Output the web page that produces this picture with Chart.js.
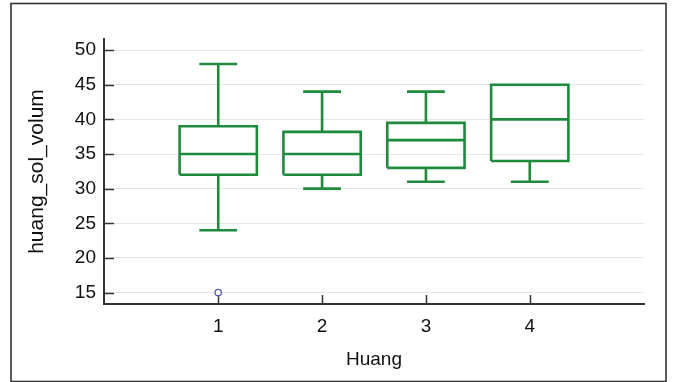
<!DOCTYPE html>
<html>
<head>
<meta charset="utf-8">
<script src="https://cdn.jsdelivr.net/npm/chart.js@4"></script>
<style>
  html, body { margin: 0; padding: 0; background: #ffffff; }
  #wrap { width: 674px; height: 382px; }
</style>
</head>
<body>
<div id="wrap"><canvas id="c" width="674" height="382"></canvas></div>
<script>
// ---- data ----
const categories   = [1, 2, 3, 4];
const whiskerLow   = [24, 30, 31, 31];
const q1           = [32, 32, 33, 34];
const median       = [35, 35, 37, 40];
const q3           = [39, 38.2, 39.5, 45];
const whiskerHigh  = [48, 44, 44, 45];
const outlierX     = [1];
const outlierY     = [15];
const yTicks       = [15, 20, 25, 30, 35, 40, 45, 50];
const xTicks       = [1, 2, 3, 4];
const xTitle = 'Huang';
const yTitle = 'huang_sol_volum';

// ---- style ----
const GREEN = '#1f8a3c';
const BOX_HALF = 0.372;
const CAP_HALF = 0.182;
const GAP = { x: NaN, y: null };

// build box outlines from the data arrays
const boxPts = [];
const medPts = [];
const whiskerPts = [];
categories.forEach((c, i) => {
  boxPts.push({x: c - BOX_HALF, y: q1[i]}, {x: c + BOX_HALF, y: q1[i]},
              {x: c + BOX_HALF, y: q3[i]}, {x: c - BOX_HALF, y: q3[i]},
              {x: c - BOX_HALF, y: q1[i]}, GAP);
  medPts.push({x: c - BOX_HALF, y: median[i]}, {x: c + BOX_HALF, y: median[i]}, GAP);
  if (whiskerHigh[i] > q3[i]) {
    whiskerPts.push({x: c, y: q3[i]}, {x: c, y: whiskerHigh[i]}, GAP,
                    {x: c - CAP_HALF, y: whiskerHigh[i]}, {x: c + CAP_HALF, y: whiskerHigh[i]}, GAP);
  }
  if (whiskerLow[i] < q1[i]) {
    whiskerPts.push({x: c, y: q1[i]}, {x: c, y: whiskerLow[i]}, GAP,
                    {x: c - CAP_HALF, y: whiskerLow[i]}, {x: c + CAP_HALF, y: whiskerLow[i]}, GAP);
  }
});
const outlierPts = outlierX.map((x, i) => ({x: x, y: outlierY[i]}));

const lineDs = (data) => ({
  data: data, showLine: true, spanGaps: false,
  borderColor: GREEN, borderWidth: 2.6, pointRadius: 0,
  borderJoinStyle: 'miter', borderCapStyle: 'butt', fill: false
});

// frame + inward tick marks
const framePlugin = {
  id: 'frame',
  beforeDraw(chart) {
    const ctx = chart.ctx;
    ctx.save();
    ctx.strokeStyle = '#333333';
    ctx.lineWidth = 1.6;
    ctx.strokeRect(11, 3.5, 655, 378);
    ctx.restore();
  },
  beforeDatasetsDraw(chart) {
    const ctx = chart.ctx;
    const xs = chart.scales.x, ys = chart.scales.y;
    const area = chart.chartArea;
    ctx.save();
    ctx.strokeStyle = '#333333';
    ctx.lineWidth = 1.5;
    ctx.beginPath();
    ys.ticks.forEach((t) => {
      const py = Math.round(ys.getPixelForValue(t.value)) + 0.5;
      ctx.moveTo(area.left, py);
      ctx.lineTo(area.left + 10, py);
    });
    xs.ticks.forEach((t) => {
      const px = Math.round(xs.getPixelForValue(t.value)) + 0.5;
      ctx.moveTo(px, area.bottom);
      ctx.lineTo(px, area.bottom - 9);
    });
    ctx.stroke();
    ctx.restore();
  }
};

const FONT = 'Liberation Sans, Arial, sans-serif';

new Chart(document.getElementById('c'), {
  type: 'scatter',
  data: {
    datasets: [
      lineDs(boxPts),
      lineDs(medPts),
      lineDs(whiskerPts),
      {
        data: outlierPts, showLine: false,
        pointStyle: 'circle', pointRadius: 3.2,
        borderColor: '#5b5bb5', backgroundColor: '#ffffff', borderWidth: 1.3
      }
    ]
  },
  options: {
    responsive: false,
    animation: false,
    events: [],
    layout: { padding: { left: 11, top: 39, right: 30, bottom: 0 } },
    plugins: { legend: { display: false }, tooltip: { enabled: false } },
    scales: {
      x: {
        type: 'linear',
        min: -0.1, max: 5.1,
        afterBuildTicks: (s) => { s.ticks = xTicks.map(v => ({value: v})); },
        afterFit: (s) => { s.height = 78; },
        grid: { display: false, drawTicks: false },
        border: { display: true, color: '#333333', width: 2 },
        ticks: { padding: 11, color: '#111111', font: { family: FONT, size: 19 },
                 maxRotation: 0, autoSkip: false, callback: (v) => String(v) },
        title: { display: true, text: xTitle, color: '#111111',
                 font: { family: FONT, size: 19 }, padding: { top: 0, bottom: 11 } }
      },
      y: {
        type: 'linear',
        min: 13.35, max: 51.6,
        afterBuildTicks: (s) => { s.ticks = yTicks.map(v => ({value: v})); },
        afterFit: (s) => { s.width = 93; },
        grid: { display: true, color: '#e6e6e6', lineWidth: 1, drawTicks: false },
        border: { display: true, color: '#333333', width: 2 },
        ticks: { padding: 8, color: '#111111', font: { family: FONT, size: 19 },
                 autoSkip: false, callback: (v) => String(v) },
        title: { display: true, text: yTitle, color: '#111111',
                 font: { family: FONT, size: 21 }, padding: { top: 14, bottom: 0 } }
      }
    }
  },
  plugins: [framePlugin]
});
</script>
</body>
</html>
